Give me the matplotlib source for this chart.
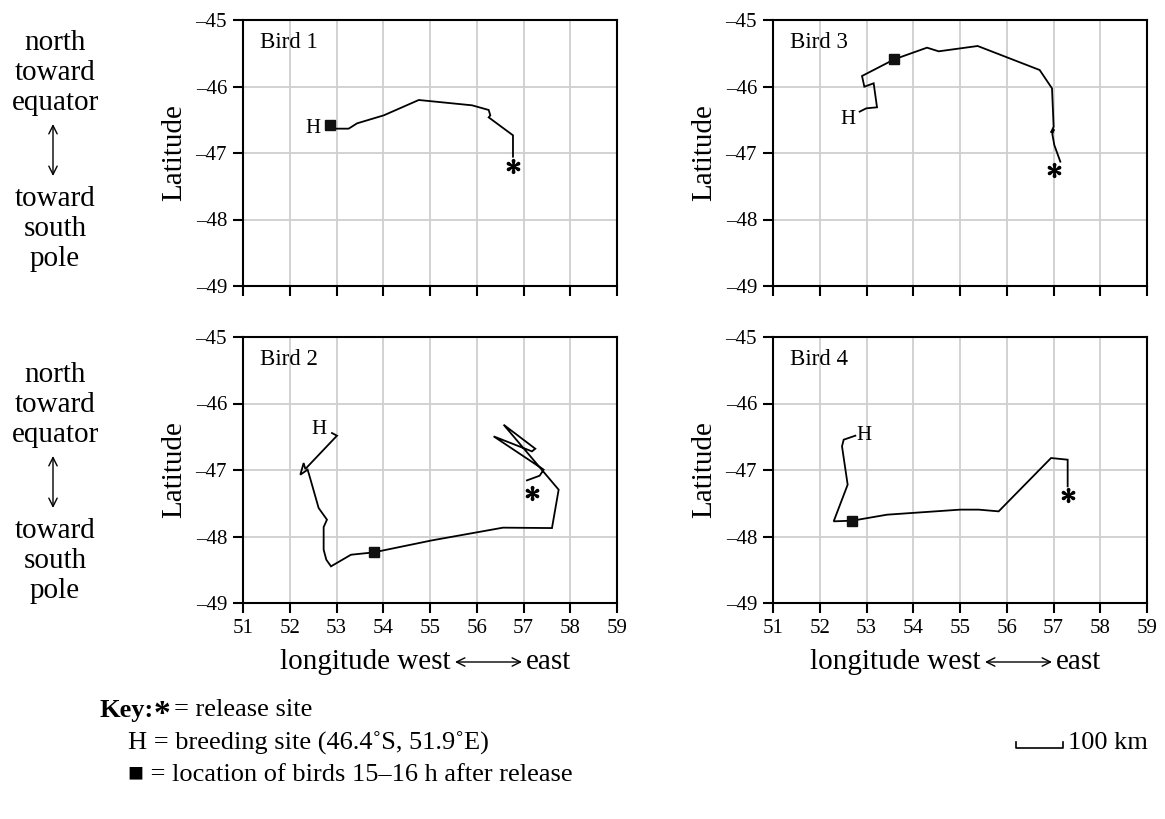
import matplotlib
matplotlib.use("Agg")
import matplotlib.pyplot as plt
from matplotlib.lines import Line2D
from matplotlib.patches import FancyArrowPatch
from matplotlib.ticker import FuncFormatter

plt.rcParams["font.family"] = ["Liberation Serif", "DejaVu Serif", "DejaVu Sans"]
plt.rcParams["mathtext.fontset"] = "stix"

W, H = 1165, 819

# ---- data (longitude, latitude) ----
lon_ticks = [51, 52, 53, 54, 55, 56, 57, 58, 59]
lat_ticks = [-49, -48, -47, -46, -45]

bird1_lon = [52.90, 53.26, 53.44, 54.01, 54.76, 55.90, 56.255, 56.29, 56.255, 56.775, 56.775]
bird1_lat = [-46.634, -46.634, -46.554, -46.434, -46.203, -46.283, -46.353, -46.434, -46.464, -46.734, -47.055]
bird1_square = (52.87, -46.574)
bird1_release = (56.775, -47.20)
bird1_h = (52.654, -46.694)

bird3_lon = [52.854, 52.996, 53.225, 53.153, 52.954, 52.904, 53.595, 54.294, 54.544, 55.378,
             56.704, 56.968, 57.003, 56.946, 57.010, 56.975, 57.017, 57.146]
bird3_lat = [-46.378, -46.328, -46.313, -45.952, -46.003, -45.842, -45.591, -45.416, -45.471, -45.391,
             -45.752, -46.028, -46.604, -46.694, -46.644, -46.714, -46.880, -47.13]
bird3_square = (53.595, -45.591)
bird3_release = (57.003, -47.25)
bird3_h = (52.761, -46.564)

bird2_lon = [52.903, 53.010, 52.333, 52.297, 52.226, 52.382, 52.425, 52.618, 52.796, 52.725,
             52.725, 52.782, 52.882, 53.310, 53.794, 55.043, 56.562, 57.609, 57.752, 56.575,
             57.252, 57.181, 56.361, 57.431, 57.345, 57.074]
bird2_lat = [-46.444, -46.484, -46.985, -46.895, -47.071, -46.995, -47.096, -47.572, -47.747, -47.858,
             -48.198, -48.349, -48.449, -48.274, -48.239, -48.058, -47.867, -47.873, -47.296, -46.319,
             -46.680, -46.720, -46.494, -46.995, -47.086, -47.156]
bird2_square = (53.794, -48.239)
bird2_release = (57.181, -47.34)
bird2_h = (52.783, -46.459)

bird4_lon = [52.761, 52.512, 52.476, 52.597, 52.298, 52.697, 53.439, 55.007, 55.399, 55.827,
             56.947, 57.303, 57.303]
bird4_lat = [-46.484, -46.544, -46.644, -47.221, -47.772, -47.762, -47.672, -47.596, -47.596, -47.622,
             -46.820, -46.845, -47.246]
bird4_square = (52.697, -47.762)
bird4_release = (57.303, -47.37)
bird4_h = (52.783, -46.544)

panels = [
    ("Bird 1", bird1_lon, bird1_lat, bird1_square, bird1_release, bird1_h, "right", (243, 20)),
    ("Bird 3", bird3_lon, bird3_lat, bird3_square, bird3_release, bird3_h, "right", (773, 20)),
    ("Bird 2", bird2_lon, bird2_lat, bird2_square, bird2_release, bird2_h, "right", (243, 337)),
    ("Bird 4", bird4_lon, bird4_lat, bird4_square, bird4_release, bird4_h, "left", (773, 337)),
]

fig = plt.figure(figsize=(W / 100, H / 100), dpi=100)
fig.patch.set_facecolor("white")


def fx(px):
    return px / W


def fy(py):
    return 1 - py / H


def arrow(x0, y0, x1, y1):
    # thin double-headed arrow in figure pixels
    fig.add_artist(FancyArrowPatch(
        (fx(x0), fy(y0)), (fx(x1), fy(y1)), transform=fig.transFigure,
        arrowstyle="<->,head_length=0.5,head_width=0.25", mutation_scale=12,
        linewidth=1.0, color="black", shrinkA=0, shrinkB=0))


AX_W, AX_H = 374, 266
dash_fmt = FuncFormatter(lambda v, pos: ("\u2013%d" % abs(v)) if v < 0 else "%d" % v)

for i, (name, lon, lat, sq, rel, hpos, hha, (left, top)) in enumerate(panels):
    ax = fig.add_axes([fx(left), fy(top + AX_H), AX_W / W, AX_H / H])
    ax.set_xlim(51, 59)
    ax.set_ylim(-49, -45)
    ax.set_xticks(lon_ticks)
    ax.set_yticks(lat_ticks)
    ax.yaxis.set_major_formatter(dash_fmt)
    ax.grid(True, color="#cfcfcf", linewidth=1.3)
    ax.set_axisbelow(True)
    for s in ax.spines.values():
        s.set_linewidth(1.5)
        s.set_color("black")
    ax.tick_params(direction="out", length=7.5, width=1.5, labelsize=15, pad=4)
    if i < 2:
        ax.tick_params(axis="x", labelbottom=False)
    ax.set_ylabel("Latitude", fontsize=21, labelpad=6)

    ax.plot(lon, lat, color="black", linewidth=1.3, solid_joinstyle="miter")
    ax.plot([sq[0]], [sq[1]], marker="s", markersize=7, color="#111111", linestyle="none")
    ax.plot([rel[0]], [rel[1]], marker=r"$\ast$", markersize=10, color="black", linestyle="none")
    ax.text(hpos[0], hpos[1], "H", fontsize=15, ha=hha, va="baseline")
    ax.text(0.045, 0.895, name, transform=ax.transAxes, fontsize=16.5, va="baseline")

    if i >= 2:
        c = left + AX_W / 2
        fig.text(fx(c + 20), fy(662), "longitude west", fontsize=21, ha="right", va="center")
        arrow(c + 25, 662, c + 92, 662)
        fig.text(fx(c + 96), fy(662), "east", fontsize=21, ha="left", va="center")

# left-hand direction notes
for y0 in (0, 332):
    fig.text(fx(55), fy(73 + y0), "north\ntoward\nequator", fontsize=21,
             ha="center", va="center", linespacing=1.2)
    fig.text(fx(55), fy(229 + y0), "toward\nsouth\npole", fontsize=21,
             ha="center", va="center", linespacing=1.2)
    arrow(53, 124 + y0, 53, 176 + y0)

# key
fig.text(fx(100), fy(710), "Key:", fontsize=19, fontweight="bold", va="center")
fig.text(fx(162), fy(715), "*", fontsize=24, fontweight="bold", ha="center", va="center")
fig.text(fx(174), fy(710), "= release site", fontsize=19, va="center")
fig.text(fx(128), fy(743), "H = breeding site (46.4\u02daS, 51.9\u02daE)", fontsize=19, va="center")
fig.text(fx(128), fy(775), "\u25a0 = location of birds 15\u201316 h after release", fontsize=19, va="center")

# scale bar
fig.add_artist(Line2D([fx(1016), fx(1016), fx(1063), fx(1063)],
                      [fy(742), fy(748), fy(748), fy(742)],
                      transform=fig.transFigure, color="black", linewidth=1.2))
fig.text(fx(1068), fy(743), "100 km", fontsize=19, va="center")

fig.savefig("out.png", dpi=100)
